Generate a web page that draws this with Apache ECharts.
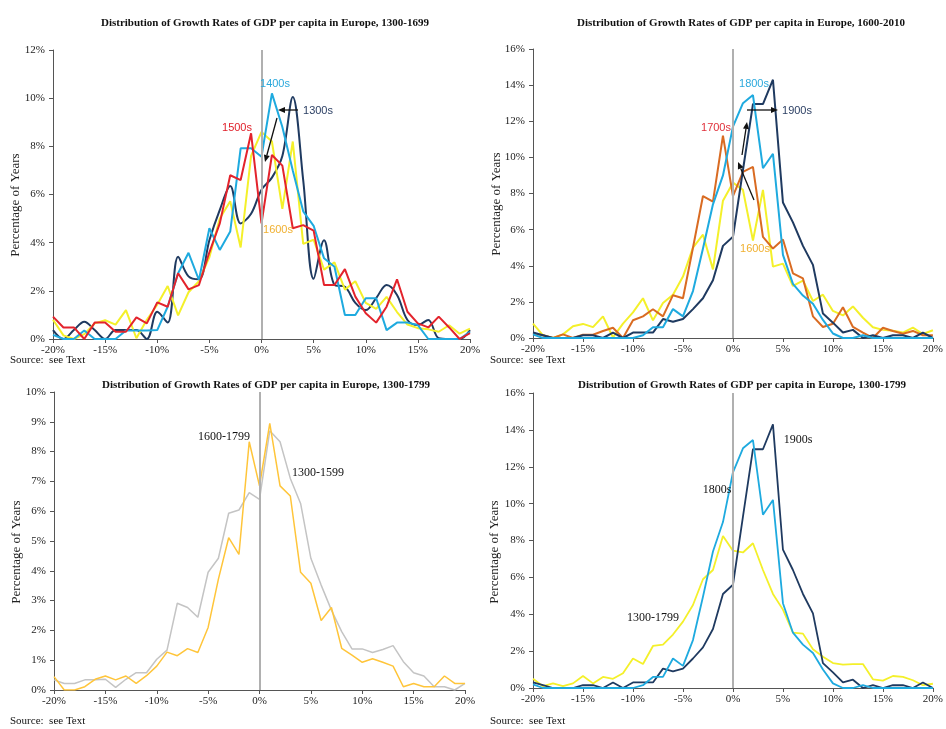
<!DOCTYPE html>
<html><head><meta charset="utf-8">
<script src="https://cdn.jsdelivr.net/npm/echarts@6/dist/echarts.min.js"></script>
<style>html,body{margin:0;padding:0;background:#fff}#c{width:946px;height:729px}</style>
</head><body><div id="c"></div>
<script>
// growth-rate bins (%)
const growthRates = [-20,-19,-18,-17,-16,-15,-14,-13,-12,-11,-10,-9,-8,-7,-6,-5,-4,-3,-2,-1,0,1,2,3,4,5,6,7,8,9,10,11,12,13,14,15,16,17,18,19,20];

// percentage of years per bin
const s1300s = [0.37,0,0.37,0.72,0.37,0,0.37,0.37,0.37,0, 1.13,0.68,3.42,2.6,2.48,4.1,5.36,6.35,4.8,5.2, 6.2,6.7,7.6,10.05,6.6,2.5,4.1,2.25,2.17,1.5,1.2, 1.7,2.24,1.83,0.79,0.58,0.79,0.03,0,0,0.37];
const s1400s = [0.17,0,0,0.35,0,0,0,0.35,0.35,0.35, 0.37,1.34,2.73,3.58,2.45,4.6,3.7,4.46,7.92,7.92, 7.57,10.2,8.8,7.0,5.3,4.7,3.35,3.0,1.0,1.0,1.69, 1.69,0.37,0.68,0.68,0.58,0,0,0,0,0.3];
const s1500s = [0.93,0.48,0.48,0,0.68,0.68,0.3,0.3,0.9,0.65, 1.52,1.34,2.73,2.06,2.24,3.6,4.8,6.8,6.6,8.54, 4.8,7.64,7.2,4.6,4.73,4.5,2.24,2.24,2.9,1.76,1.07, 0.68,1.34,2.48,1.13,0.65,0.48,0.93,0.48,0,0.24];
const s1600s = [0.8,0.15,0,0.2,0.65,0.78,0.6,1.2,0.03,0.8, 1.42,2.2,0.98,1.94,2.4,3.4,5.0,5.72,3.8,7.6, 8.6,8.2,5.4,8.2,3.95,4.12,2.88,3.18,2.05,2.4,1.5, 1.25,1.75,1.12,0.6,0.45,0.4,0.3,0.57,0.22,0.43];
const s1700s = [0.24,0.15,0,0.2,0,0.18,0.18,0.39,0.57,0, 0.98,1.2,1.59,1.2,2.37,2.2,5.0,7.86,7.55,11.2, 7.85,9.2,9.47,5.6,4.95,5.45,3.58,3.3,1.2,0.61,0.79, 1.7,0.61,0.3,0,0.57,0.39,0.24,0.39,0.15,0.15];
const s1800s = [0.2,0,0,0,0,0,0,0,0,0, 0,0.15,0.6,0.6,1.6,1.2,2.6,4.95,7.4,9.0, 11.7,13.0,13.45,9.4,10.2,4.6,3.0,2.35,1.9,1.0,0.25, 0,0,0.15,0,0,0,0,0,0,0];
const s1900s = [0.3,0.15,0,0,0,0.15,0.15,0,0.3,0, 0.3,0.3,0.3,1.05,0.9,1.05,1.6,2.2,3.2,5.1, 5.6,9.3,12.95,12.95,14.3,7.5,6.4,5.1,4.05,1.35,0.85, 0.3,0.45,0,0.15,0,0.15,0.15,0,0.3,0];
const s1300to1599 = [0.34,0.22,0.22,0.34,0.34,0.36,0.09,0.36,0.58,0.58, 1.03,1.34,2.91,2.77,2.44,3.95,4.42,5.93,6.04,6.62, 6.4,8.7,8.33,7.1,6.26,4.42,3.52,2.68,1.96,1.38,1.38, 1.26,1.36,1.49,0.95,0.58,0.47,0.11,0.11,0,0.22];
const s1600to1799 = [0.45,0,0,0.11,0.36,0.47,0.34,0.47,0.22,0.48, 0.8,1.27,1.15,1.39,1.26,2.1,3.72,5.11,4.55,8.33, 6.85,8.95,6.85,6.51,3.95,3.58,2.33,2.77,1.4,1.17,0.93, 1.05,0.93,0.8,0.11,0.22,0.11,0.11,0.47,0.22,0.22];
const s1300to1799 = [0.5,0.1,0.25,0.1,0.25,0.65,0.25,0.6,0.5,0.8, 1.6,1.3,2.28,2.35,2.9,3.6,4.5,5.9,6.4,8.25, 7.45,7.35,7.85,6.4,5.1,4.25,3.0,2.95,2.1,1.7,1.35, 1.27,1.3,1.3,0.47,0.4,0.65,0.6,0.42,0.15,0.23];

const yMax = [12, 16, 10, 16];
const yStep = [2, 2, 1, 2];
const titles = [
  'Distribution of Growth Rates of GDP per capita in Europe, 1300-1699',
  'Distribution of Growth Rates of GDP per capita in Europe, 1600-2010',
  'Distribution of Growth Rates of GDP per capita in Europe, 1300-1799',
  'Distribution of Growth Rates of GDP per capita in Europe, 1300-1799'
];

const SERIF = '"Liberation Serif","Times New Roman",serif';
const SANS = '"Liberation Sans",Arial,sans-serif';
const C = {navy:'#1f3a60', cyan:'#1eaadf', red:'#e3232c', yellow:'#f4f02a', orange:'#d96b22', gray:'#c4c4c4', gold:'#ffc53a'};

const grids = [
  {left:53, top:50, width:417, height:289},
  {left:533, top:49, width:407, height:289},
  {left:54, top:392, width:411, height:298},
  {left:533, top:393, width:408, height:295}
];

const xAxes = grids.map((g,i)=>({
  type:'value', gridIndex:i, min:-20, max:20, interval:5,
  axisLine:{show:true, onZero:false, lineStyle:{color:'#555', width:1}},
  axisTick:{show:true, length:4, lineStyle:{color:'#555'}},
  splitLine:{show:false},
  axisLabel:{formatter:v=>v+'%', fontFamily:SERIF, fontSize:11, color:'#222', margin:6}
}));
const yAxes = grids.map((g,i)=>({
  type:'value', gridIndex:i, min:0, max:yMax[i], interval:yStep[i],
  axisLine:{show:true, onZero:false, lineStyle:{color:'#555', width:1}},
  axisTick:{show:true, length:4, lineStyle:{color:'#555'}},
  splitLine:{show:false},
  axisLabel:{formatter:v=>v+'%', fontFamily:SERIF, fontSize:11, color:'#222', margin:8}
}));

function mk(name, vals, idx, color, width, smooth, zeroLine){
  const s = {
    type:'line', name, xAxisIndex:idx, yAxisIndex:idx,
    data: growthRates.map((g,i)=>[g, vals[i]]),
    showSymbol:false, smooth: smooth||false, animation:false,
    lineStyle:{color, width}, itemStyle:{color}
  };
  if (zeroLine) s.markLine = {silent:true, symbol:'none', animation:false, label:{show:false},
    lineStyle:{color:'#b0b0b0', width:2, type:'solid'}, data:[{xAxis:0}]};
  return s;
}

const series = [
  mk('1300s', s1300s, 0, C.navy, 2, 0.35, true),
  mk('1600s', s1600s, 0, C.yellow, 2),
  mk('1400s', s1400s, 0, C.cyan, 2),
  mk('1500s', s1500s, 0, C.red, 2),

  mk('1600s', s1600s, 1, C.yellow, 2, false, true),
  mk('1700s', s1700s, 1, C.orange, 2),
  mk('1900s', s1900s, 1, C.navy, 2),
  mk('1800s', s1800s, 1, C.cyan, 2),

  mk('1300-1599', s1300to1599, 2, C.gray, 1.5, false, true),
  mk('1600-1799', s1600to1799, 2, C.gold, 1.5),

  mk('1300-1799', s1300to1799, 3, C.yellow, 1.8, false, true),
  mk('1900s', s1900s, 3, C.navy, 1.8),
  mk('1800s', s1800s, 3, C.cyan, 1.8)
];

function txt(x, y, text, color, font, size, rot){
  return {type:'text', x, y, rotation: rot||0, z:100, silent:true,
    style:{text, fill:color, font: size+'px '+font, textAlign:'center', textVerticalAlign:'middle'}};
}
function arrow(x1,y1,x2,y2){
  const a = Math.atan2(y2-y1, x2-x1), L = 7, W = 3;
  const bx = x2 - L*Math.cos(a), by = y2 - L*Math.sin(a);
  const px = -Math.sin(a)*W, py = Math.cos(a)*W;
  return [
    {type:'line', z:100, silent:true, shape:{x1, y1, x2:bx, y2:by}, style:{stroke:'#111', lineWidth:1.3}},
    {type:'polygon', z:100, silent:true, shape:{points:[[x2,y2],[bx+px,by+py],[bx-px,by-py]]}, style:{fill:'#111'}}
  ];
}

const graphic = [
  txt(16, 205, 'Percentage of Years', '#222', SERIF, 13, Math.PI/2),
  txt(497, 204, 'Percentage of Years', '#222', SERIF, 13, Math.PI/2),
  txt(17, 552, 'Percentage of Years', '#222', SERIF, 13, Math.PI/2),
  txt(495, 552, 'Percentage of Years', '#222', SERIF, 13, Math.PI/2),

  {type:'text', left:10, top:355, z:100, style:{text:'Source:  see Text', fill:'#111', font:'11px '+SERIF}},
  {type:'text', left:490, top:355, z:100, style:{text:'Source:  see Text', fill:'#111', font:'11px '+SERIF}},
  {type:'text', left:10, top:716, z:100, style:{text:'Source:  see Text', fill:'#111', font:'11px '+SERIF}},
  {type:'text', left:490, top:716, z:100, style:{text:'Source:  see Text', fill:'#111', font:'11px '+SERIF}},

  txt(275, 84, '1400s', '#2aa8dc', SANS, 11),
  txt(318, 111, '1300s', '#2b3f63', SANS, 11),
  txt(237, 128, '1500s', '#e0202a', SANS, 11),
  txt(278, 230, '1600s', '#f0b030', SANS, 11),

  txt(754, 84, '1800s', '#2aa8dc', SANS, 11),
  txt(797, 111, '1900s', '#2b3f63', SANS, 11),
  txt(716, 128, '1700s', '#e0303a', SANS, 11),
  txt(755, 249, '1600s', '#f0b030', SANS, 11),

  txt(224, 437, '1600-1799', '#111', SERIF, 12),
  txt(318, 473, '1300-1599', '#111', SERIF, 12),
  txt(798, 440, '1900s', '#111', SERIF, 12),
  txt(717, 490, '1800s', '#111', SERIF, 12),
  txt(653, 618, '1300-1799', '#111', SERIF, 12),

  ...arrow(298,110,278,110),
  ...arrow(277,118,265,162),
  ...arrow(747,110,778,110),
  ...arrow(742,155,747,122),
  ...arrow(754,200,738,162)
];

const title = titles.map((t,i)=>({
  text:t, left:[260,736,261,737][i], top:[13,13,375,375][i], textAlign:'center',
  textStyle:{fontFamily:SERIF, fontSize:11, fontWeight:'bold', color:'#111'}
}));

const chart = echarts.init(document.getElementById('c'), null, {renderer:'canvas'});
chart.setOption({
  animation:false, backgroundColor:'#fff',
  title, grid:grids, xAxis:xAxes, yAxis:yAxes, series, graphic
});
</script></body></html>
